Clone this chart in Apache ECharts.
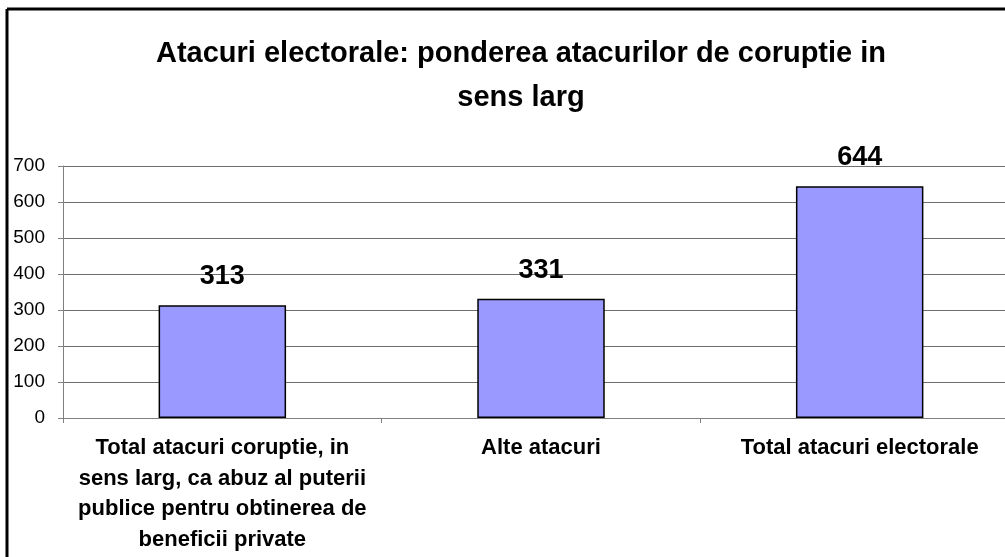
<!DOCTYPE html>
<html>
<head>
<meta charset="utf-8">
<script src="https://cdn.jsdelivr.net/npm/echarts@6/dist/echarts.min.js"></script>
<style>
html,body{margin:0;padding:0;background:#fff;overflow:hidden;width:1005px;height:557px;}
#c{width:1019px;height:557px;}
</style>
</head>
<body>
<div id="c"></div>
<script>
var titleText = "Atacuri electorale: ponderea atacurilor de coruptie in\nsens larg";
var categories = [
  "Total atacuri coruptie, in\nsens larg, ca abuz al puterii\npublice pentru obtinerea de\nbeneficii private",
  "Alte atacuri",
  "Total atacuri electorale"
];
var values = [313, 331, 644];
var yMin = 0, yMax = 700, yStep = 100;

var chart = echarts.init(document.getElementById('c'), null, {renderer: 'canvas'});
chart.setOption({
  backgroundColor: '#fff',
  animation: false,
  title: {
    text: titleText,
    left: 516,
    textAlign: 'center',
    top: 27,
    textStyle: {
      fontFamily: 'Liberation Sans, Arial, sans-serif',
      fontWeight: 'bold',
      fontSize: 29,
      lineHeight: 44,
      color: '#000'
    }
  },
  graphic: [
    {type: 'line', shape: {x1: 7, y1: 9, x2: 1019, y2: 9}, style: {stroke: '#000', lineWidth: 3}},
    {type: 'line', shape: {x1: 7, y1: 9, x2: 7, y2: 557}, style: {stroke: '#000', lineWidth: 3}}
  ],
  grid: {left: 63, right: 0, top: 166, height: 252, containLabel: false, outerBoundsMode: 'none'},
  xAxis: {
    type: 'category',
    data: categories,
    axisLine: {lineStyle: {color: '#808080', width: 1}},
    axisTick: {show: true, alignWithLabel: false, length: 5, lineStyle: {color: '#808080'}},
    axisLabel: {
      interval: 0,
      margin: 15,
      fontFamily: 'Liberation Sans, Arial, sans-serif',
      fontWeight: 'bold',
      fontSize: 22,
      lineHeight: 30.5,
      color: '#000',
      align: 'center'
    }
  },
  yAxis: {
    type: 'value',
    min: yMin,
    max: yMax,
    interval: yStep,
    axisLine: {show: true, lineStyle: {color: '#808080', width: 1}},
    axisTick: {show: true, length: 5, lineStyle: {color: '#808080'}},
    splitLine: {show: true, lineStyle: {color: '#6e6e6e', width: 1}},
    axisLabel: {
      margin: 18,
      fontFamily: 'Liberation Sans, Arial, sans-serif',
      fontSize: 19,
      color: '#000'
    }
  },
  series: [{
    type: 'bar',
    data: values,
    barWidth: '40%',
    itemStyle: {color: '#9999FF', borderColor: '#000', borderWidth: 1.5},
    label: {
      show: true,
      position: 'top',
      distance: 15,
      fontFamily: 'Liberation Sans, Arial, sans-serif',
      fontWeight: 'bold',
      fontSize: 27,
      color: '#000'
    }
  }]
});
</script>
</body>
</html>
